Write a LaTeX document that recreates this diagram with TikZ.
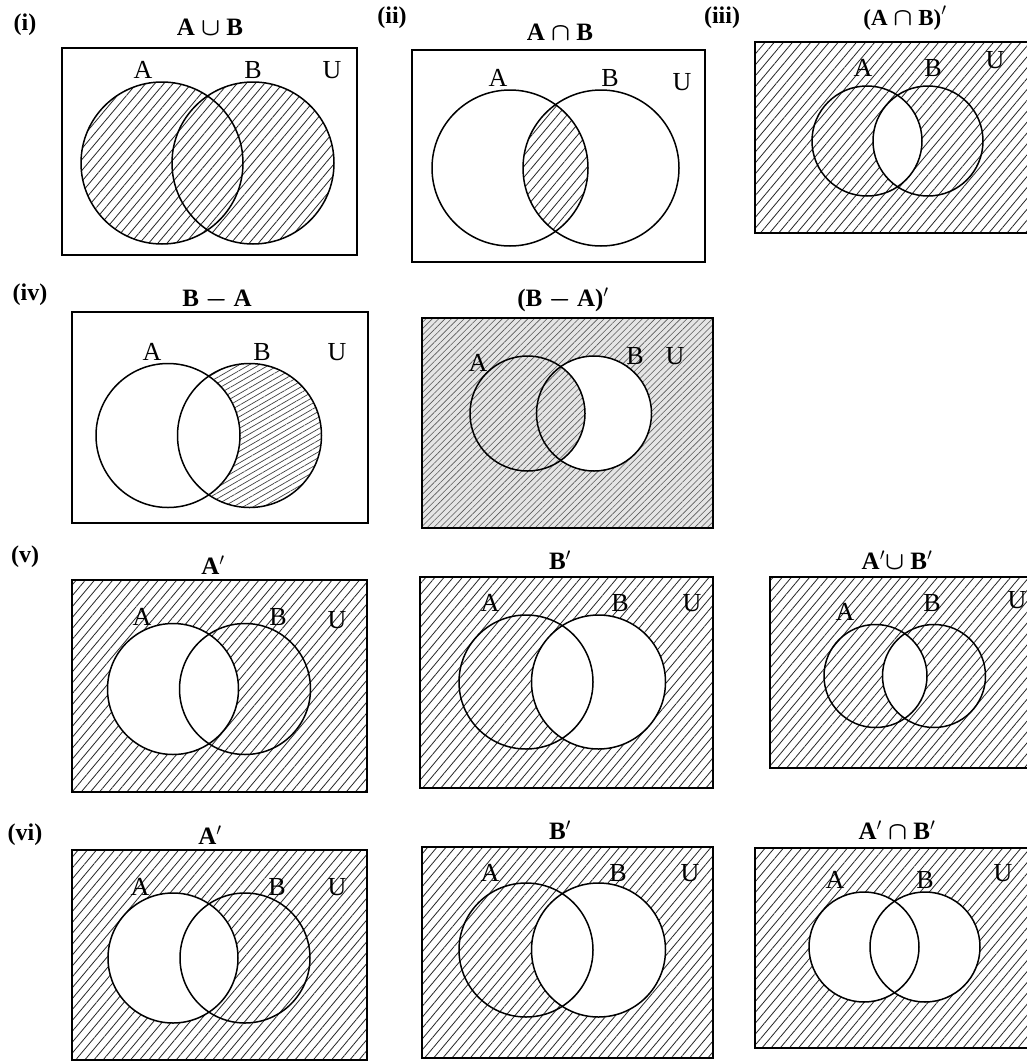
\documentclass[tikz,border=0pt]{standalone}
\usepackage{fontspec}
\setmainfont{Liberation Serif}
\usetikzlibrary{patterns.meta}
\tikzset{
 frame/.style={draw=black, line width=2.2pt},
 venn/.style={draw=black, line width=1.5pt},
 hatch/.style={pattern={Lines[angle=50,distance=7pt,line width=0.8pt]}, pattern color=black!85},
 hatchB/.style={pattern={Lines[angle=30,distance=5pt,line width=0.7pt]}, pattern color=black!75},
 hatchfine/.style={pattern={Lines[angle=45,distance=4.5pt,line width=0.6pt]}, pattern color=black!65},
 title/.style={font=\fontsize{25}{30}\selectfont\bfseries, inner sep=0pt},
 tag/.style={font=\fontsize{24}{28}\selectfont\bfseries, inner sep=0pt},
 lab/.style={font=\fontsize{26}{30}\selectfont, inner sep=0pt},
}
% #1 x1, #2 y1, #3 x2, #4 y2, #5 A cx, #6 B cx, #7 cy, #8 r, #9 region code
\newcommand{\vpanel}[9]{%
 \def\pU{(#1,#2) rectangle (#3,#4)}%
 \def\pA{(#5,#7) circle[radius=#8]}%
 \def\pB{(#6,#7) circle[radius=#8]}%
 #9%
 \draw[venn] \pA; \draw[venn] \pB; \draw[frame] \pU;
}
\newcommand{\RUnion}{\fill[hatch] \pA \pB;}
\newcommand{\RInter}{\begin{scope}\clip \pA; \fill[hatch] \pB;\end{scope}}
\newcommand{\RNotInter}{\fill[hatch] \pU; \begin{scope}\clip \pA; \fill[white] \pB;\end{scope}}
\newcommand{\RBminusA}{\fill[hatchB] \pB; \begin{scope}\clip \pA; \fill[white] \pB;\end{scope}}
\newcommand{\RNotBminusA}{\fill[black!10] \pU; \fill[hatchfine] \pU; \begin{scope}\clip \pB; \fill[white,even odd rule] \pU \pA;\end{scope}}
\newcommand{\RNotA}{\fill[hatch] \pU; \fill[white] \pA;}
\newcommand{\RNotB}{\fill[hatch] \pU; \fill[white] \pB;}
\newcommand{\RNeither}{\fill[hatch] \pU; \fill[white] \pA; \fill[white] \pB;}
\newcommand{\bcup}{{\boldmath$\cup$}}
\newcommand{\bcap}{{\boldmath$\cap$}}
\begin{document}
\begin{tikzpicture}[x=1pt,y=-1pt]
\useasboundingbox (0,0) rectangle (1027,1063);
\fill[white] (0,0) rectangle (1027,1063);
\clip (0,0) rectangle (1027,1063);

% (i) A u B
\vpanel{62}{48}{357}{255}{162}{253}{163}{81}{\RUnion}
\node[tag] (g1) at (25,25) {(i)};
\node[title] (t1) at (210,27) {A \bcup\ B};
\node[lab] (a1) at (143,70) {A};
\node[lab] (b1) at (253,70) {B};
\node[lab] (u1) at (332,70) {U};

% (ii) A n B
\vpanel{412}{50}{705}{262}{510}{601}{168}{78}{\RInter}
\node[tag] (g2) at (392,18) {(ii)};
\node[title] (t2) at (560,32) {A \bcap\ B};
\node[lab] (a2) at (498,78) {A};
\node[lab] (b2) at (610,78) {B};
\node[lab] (u2) at (682,82) {U};

% (iii) (A n B)'
\vpanel{755}{42}{1045}{233}{867}{928}{141}{55}{\RNotInter}
\node[tag] (g3) at (722,18) {(iii)};
\node[title, anchor=base, font=\fontsize{23}{28}\selectfont\bfseries] (t3) at (905,25) {(A \bcap\ B)$'$};
\node[lab] (a3) at (863,68) {A};
\node[lab] (b3) at (933,68) {B};
\node[lab] (u3) at (995,60) {U};

% (iv) B - A
\vpanel{72}{312}{368}{523}{168}{249.5}{435.5}{72}{\RBminusA}
\node[tag] (g4) at (30,295) {(iv)};
\node[title] (t4) at (217,300) {B {\boldmath$-$} A};
\node[lab] (a4) at (152,352) {A};
\node[lab] (b4) at (262,352) {B};
\node[lab] (u4) at (337,352) {U};

% (B - A)'
\vpanel{422}{318}{713}{528}{527.5}{594}{413.5}{57.5}{\RNotBminusA}
\node[title] (t5) at (563,300) {(B {\boldmath$-$} A)$'$};
\node[lab] (a5) at (478,363) {A};
\node[lab] (b5) at (635,356) {B};
\node[lab] (u5) at (675,356) {U};

% (v) A'
\vpanel{72}{580}{367}{792}{173}{245}{689}{65.5}{\RNotA}
\node[tag] (g6) at (25,557) {(v)};
\node[title] (t6) at (213,565) {A$'$};
\node[lab] (a6) at (142,617) {A};
\node[lab] (b6) at (278,617) {B};
\node[lab] (u6) at (337,620) {U};

% B'
\vpanel{420}{577}{713}{788}{526}{598.5}{682}{67}{\RNotB}
\node[title] (t7) at (560,560) {B$'$};
\node[lab] (a7) at (490,603) {A};
\node[lab] (b7) at (620,603) {B};
\node[lab] (u7) at (692,603) {U};

% A' u B'
\vpanel{770}{577}{1045}{768}{875.5}{934}{676}{51.5}{\RNotInter}
\node[title] (t8) at (897,560) {A$'$\bcup\ B$'$};
\node[lab] (a8) at (845,612) {A};
\node[lab] (b8) at (932,603) {B};
\node[lab] (u8) at (1017,600) {U};

% (vi) A'
\vpanel{72}{850}{367}{1060}{173}{245}{958}{65}{\RNotA}
\node[tag] (g9) at (25,835) {(vi)};
\node[title] (t9) at (210,835) {A$'$};
\node[lab] (a9) at (140,887) {A};
\node[lab] (b9) at (277,887) {B};
\node[lab] (u9) at (337,887) {U};

% B'
\vpanel{422}{847}{713}{1058}{526}{598.5}{950}{67}{\RNotB}
\node[title] (t10) at (560,830) {B$'$};
\node[lab] (a10) at (490,873) {A};
\node[lab] (b10) at (618,873) {B};
\node[lab] (u10) at (690,873) {U};

% A' n B'
\vpanel{755}{848}{1045}{1048}{864}{925}{947}{55}{\RNeither}
\node[title] (t11) at (897,830) {A$'$ \bcap\ B$'$};
\node[lab] (a11) at (835,880) {A};
\node[lab] (b11) at (925,880) {B};
\node[lab] (u11) at (1003,873) {U};
\end{tikzpicture}
\end{document}
